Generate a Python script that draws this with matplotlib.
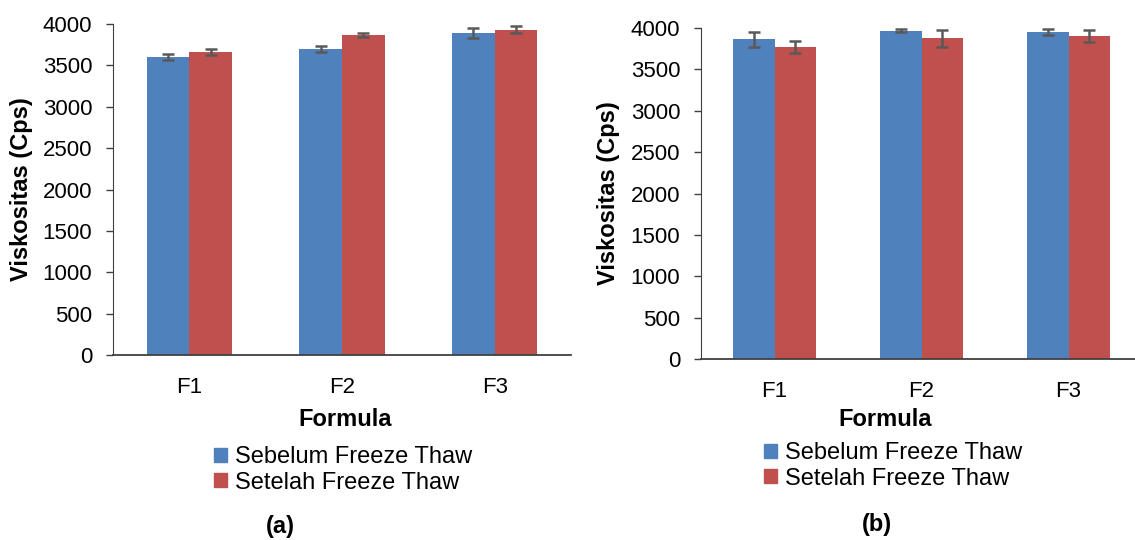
import matplotlib.pyplot as plt
from matplotlib.patches import Patch
import numpy as np

plt.rcParams['font.family'] = ['Liberation Sans', 'DejaVu Sans']

# data
formula = ['F1', 'F2', 'F3']
series_names = ['Sebelum Freeze Thaw', 'Setelah Freeze Thaw']

a_sebelum = [3605, 3698, 3890]
a_sebelum_err = [36, 38, 64]
a_setelah = [3657, 3870, 3930]
a_setelah_err = [36, 26, 44]

b_sebelum = [3864, 3969, 3953]
b_sebelum_err = [93, 20, 32]
b_setelah = [3772, 3876, 3900]
b_setelah_err = [72, 100, 74]

blue = '#4F81BD'
red = '#C0504D'
W, H = 1135, 540
fs = 16

fig = plt.figure(figsize=(W / 100, H / 100), dpi=100)


def px(x0, y0, x1, y1):
    # pixel box (top-left origin) -> figure fraction rect
    return [x0 / W, 1 - y1 / H, (x1 - x0) / W, (y1 - y0) / H]


def panel(box, sebelum, s_err, setelah, t_err, ylab_x, tag, tag_x, tag_y,
          form_x, form_y, leg_x, leg_y):
    ax = fig.add_axes(px(*box))
    x = np.arange(len(formula))
    bw = 0.28
    ek = dict(ecolor='#595959', elinewidth=1.8, capsize=4, capthick=1.8)
    ax.bar(x - bw / 2, sebelum, bw, yerr=s_err, color=blue, error_kw=ek, zorder=2)
    ax.bar(x + bw / 2, setelah, bw, yerr=t_err, color=red, error_kw=ek, zorder=2)
    ax.set_xlim(-0.5, 2.5)
    ax.set_ylim(0, 4000)
    ax.set_yticks(range(0, 4001, 500))
    ax.set_xticks(x)
    ax.set_xticklabels(formula)
    ax.tick_params(axis='y', length=5, width=1, color='#404040', labelsize=fs, pad=10)
    ax.tick_params(axis='x', length=0, labelsize=fs, pad=16)
    for s in ['top', 'right']:
        ax.spines[s].set_visible(False)
    ax.spines['left'].set_color('#404040')
    ax.spines['bottom'].set_color('#404040')
    ax.spines['bottom'].set_linewidth(1.3)
    fig.text(ylab_x / W, 1 - (box[1] + box[3]) / 2 / H, 'Viskositas (Cps)',
             rotation=90, ha='center', va='center', fontsize=17, fontweight='bold')
    fig.text(form_x / W, 1 - form_y / H, 'Formula',
             ha='center', va='center', fontsize=17, fontweight='bold')
    fig.text(tag_x / W, 1 - tag_y / H, tag, ha='center', va='center',
             fontsize=17, fontweight='bold')
    handles = [Patch(color=blue), Patch(color=red)]
    fig.legend(handles, series_names, loc='upper left',
               bbox_to_anchor=(leg_x / W, 1 - leg_y / H), frameon=False,
               fontsize=17, handlelength=0.55, handleheight=0.55,
               handletextpad=0.35, labelspacing=0.15, borderpad=0, borderaxespad=0)
    return ax


panel((113, 24, 571, 355), a_sebelum, a_sebelum_err, a_setelah, a_setelah_err,
      22, '(a)', 280, 527, 345, 420, 214, 446)
panel((701, 28, 1142, 359), b_sebelum, b_sebelum_err, b_setelah, b_setelah_err,
      609, '(b)', 877, 525, 885, 419, 764, 442)

fig.savefig('out.png', dpi=100)
